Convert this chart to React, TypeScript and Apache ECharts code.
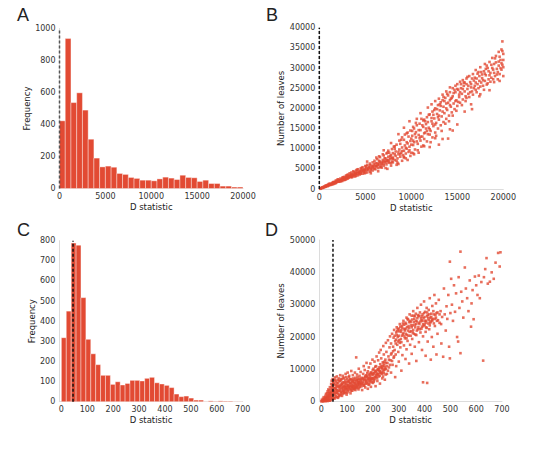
import React, { useEffect, useRef } from "react";
import * as echarts from "echarts";

// ---------- Data ----------
// Panel A: histogram of D statistic (bins of 625, 0..20000)
const A_BIN_WIDTH = 625;
const A_COUNTS = [423, 937, 537, 598, 490, 308, 190, 135, 140, 133, 94, 88, 69, 63, 52, 52, 48, 60, 71, 65, 56, 83, 69, 67, 44, 52, 31, 31, 15, 15, 9, 9];
const A_THRESHOLD = 0;

// Panel C: histogram of D statistic (37 bins, 0..700)
const C_BIN_WIDTH = 700 / 37;
const C_COUNTS = [318, 450, 788, 778, 517, 310, 238, 184, 131, 131, 86, 99, 83, 91, 106, 106, 103, 116, 121, 94, 88, 81, 70, 38, 25, 28, 18, 8, 8, 1, 4, 2, 4, 3, 3, 1, 1];
const C_THRESHOLD = 45;

// Panel B: D statistic (thousands) vs number of leaves (thousands)
const B_POINTS_K = [
  [0.1,0.05],[0.2,0.2],[0.3,0.25],[0.4,0.35],[0.5,0.4],[0.6,0.6],[0.7,0.55],[0.8,0.8],[0.9,0.7],[1.0,0.9],[1.0,1.2],[1.1,1.0],[1.2,1.3],[1.3,1.1],[1.4,1.5],[1.5,1.2],[1.5,1.7],[1.6,1.4],[1.7,1.8],[1.8,1.5],[1.8,2.1],[1.9,1.7],[2.0,2.0],[2.0,2.4],[2.1,1.8],[2.2,2.2],[2.3,2.6],[2.3,1.9],[2.4,2.3],[2.5,2.8],[2.5,2.0],[2.6,2.5],[2.7,3.0],[2.7,2.2],[2.8,2.7],[2.9,3.3],[2.9,2.4],[3.0,3.0],[3.0,2.6],[3.1,3.6],[3.2,2.8],[3.2,3.2],[3.3,3.9],[3.4,3.0],[3.4,3.5],[3.5,4.1],[3.5,2.9],[3.6,3.7],[3.7,3.2],[3.7,4.4],[3.8,3.5],[3.9,4.0],[3.9,3.1],[4.0,4.6],[4.0,3.7],[4.1,4.2],[4.2,3.4],[4.2,4.9],[4.3,3.9],[4.4,4.5],[4.4,3.6],[4.5,5.1],[4.5,4.1],[4.6,4.7],[4.7,3.8],[4.7,5.4],[4.8,4.3],[4.9,5.0],[4.9,3.9],[5.0,5.7],[5.0,4.5],[5.1,5.2],[5.2,4.1],[5.2,6.0],
  [5.3,4.7],[5.4,5.5],[5.5,6.3],[5.5,4.3],[5.6,5.0],[5.7,5.8],[5.8,6.6],[5.8,4.6],[5.9,5.3],[6.0,6.1],[6.0,7.0],[6.1,4.9],[6.2,5.6],[6.3,6.4],[6.3,7.4],[6.4,5.2],[6.5,6.0],[6.6,6.8],[6.6,7.9],[6.7,5.5],[6.8,6.3],[6.9,7.2],[7.0,8.3],[7.0,5.8],[7.1,6.7],[7.2,7.6],[7.3,8.8],[7.3,6.1],[7.4,7.0],[7.5,8.0],[7.5,9.5],[7.6,6.5],[7.7,7.4],[7.8,8.4],[7.9,9.9],[7.9,6.8],[8.0,7.8],[8.0,8.9],[8.1,10.5],[8.2,7.2],[8.3,8.2],[8.3,9.3],[8.4,11.0],[8.5,6.5],[8.5,7.6],[8.6,8.6],[8.7,9.8],[8.7,12.0],[8.8,8.0],[8.9,9.0],[9.0,10.3],[9.0,12.8],[9.1,8.4],[9.2,9.5],[9.3,10.8],[9.3,13.5],[9.4,8.8],[9.5,10.0],[9.6,11.3],[9.6,14.0],[9.7,9.2],[9.8,10.5],[9.9,11.9],[9.9,14.5],[10.0,9.0],[10.0,12.5],[10.1,13.2],[10.2,10.9],[10.3,15.0],[10.3,11.6],[10.4,9.8],[10.5,12.8],[10.5,14.1],[10.6,15.8],[10.7,11.2],[10.8,13.4],[10.9,16.2],[11.0,12.0],[11.0,14.6],[11.1,10.5],[11.2,13.0],[11.3,15.4],[11.3,17.0],[11.4,12.4],[11.5,14.0],[11.6,16.1],[11.7,11.8],[11.7,17.8],[11.8,13.6],[11.9,15.2],[12.0,13.5],[12.0,18.5],[12.1,14.4],[12.2,16.8],[12.3,12.8],[12.3,19.2],[12.4,15.6],[12.5,17.5],[12.6,14.0],[12.6,20.0],[12.7,16.4],[12.8,18.6],[12.9,15.0],[12.9,20.8],[13.0,11.0],[13.0,17.2],[13.1,19.5],[13.2,21.5],[13.2,15.8],[13.3,18.0],[13.4,22.0],[13.5,16.6],[13.5,20.4],[13.6,18.8],[13.7,22.6],[13.8,17.4],[13.8,21.2],[13.9,19.6],[14.0,23.2],[14.0,12.5],[14.1,18.2],[14.2,22.0],[14.2,24.0],[14.3,20.4],[14.4,19.0],[14.5,14.5],[14.5,23.0],[14.5,25.0],[14.6,21.2],[14.7,19.8],[14.8,24.0],[14.8,25.6],[14.9,22.0],[15.0,20.6],[15.0,26.0],[15.1,24.6],[15.2,22.8],[15.3,21.4],[15.3,26.6],[15.4,25.0],[15.5,23.6],[15.6,22.2],[15.6,27.0],[15.7,25.6],[15.8,24.2],[15.9,23.0],[16.0,27.4],[16.0,26.0],[16.1,24.8],[16.2,23.6],[16.3,28.0],[16.4,26.5],[16.5,25.2],[16.5,21.0],[16.6,24.2],[16.7,28.5],[16.8,26.9],[16.9,25.6],[17.0,24.6],[17.0,29.5],[17.1,27.4],[17.2,26.0],[17.3,25.0],[17.4,28.0],[17.5,30.2],[17.5,23.5],[17.6,26.4],[17.7,27.5],[17.8,25.6],[17.9,29.2],[18.0,31.0],[18.0,26.8],[18.1,28.2],[18.2,25.9],[18.3,30.0],[18.4,27.2],[18.5,31.5],[18.5,24.5],[18.6,28.8],[18.7,27.6],[18.8,32.5],[18.9,29.6],[19.0,26.5],[19.0,31.0],[19.1,28.0],[19.2,33.0],[19.3,29.8],[19.4,27.2],[19.5,34.0],[19.5,30.6],[19.6,28.5],[19.7,32.0],[19.8,34.6],[19.8,29.6],[19.9,30.8],[20.0,33.5],[20.0,28.0],[19.9,36.6],
  [0.3,0.4],[0.5,0.6],[0.7,0.9],[0.9,1.0],[1.1,1.3],[1.2,1.0],[1.4,1.2],[1.6,1.7],[1.7,1.4],[1.9,2.0],[2.1,2.3],[2.2,1.9],[2.4,2.0],[2.6,2.9],[2.8,2.3],[3.0,3.4],[3.1,2.6],[3.3,3.3],[3.5,3.5],[3.6,3.0],[3.8,4.2],[4.0,3.3],[4.1,4.8],[4.3,4.3],[4.5,3.8],[4.6,5.2],[4.8,4.7],[5.0,4.0],[5.1,5.6],[5.3,5.0],[5.5,5.9],[5.6,4.6],[5.8,5.6],[6.0,5.0],[6.1,6.4],[6.3,5.8],[6.5,7.0],[6.6,5.4],[6.8,6.6],[7.0,6.2],[7.1,7.6],[7.3,6.6],[7.5,7.2],[7.7,8.2],[7.8,6.4],[8.0,7.4],[8.2,8.6],[8.4,7.0],[8.6,9.2],[8.8,8.6],[9.0,9.4],[9.2,8.0],[9.4,10.2],[9.5,11.6],[9.8,9.6],[10.0,11.0],[10.2,12.0],[10.4,13.6],[10.6,11.8],[10.8,14.6],[11.0,13.0],[11.2,15.8],[11.4,13.8],[11.6,15.0],[11.8,16.6],[12.0,14.8],[12.2,17.6],[12.4,18.4],[12.6,16.0],[12.8,19.8],[13.0,18.2],[13.2,20.6],[13.4,19.2],[13.6,21.8],[13.8,20.0],[14.0,21.4],[14.2,20.8],[14.4,22.6],[14.6,23.8],[14.8,21.8],[15.0,24.8],[15.2,23.4],[15.4,26.0],[15.6,24.8],[15.8,26.4],[16.0,22.6],[16.2,25.6],[16.4,24.0],[16.6,27.4],[16.8,25.0],[17.0,26.4],[17.2,28.6],[17.4,26.8],[17.6,29.0],[17.8,27.0],[18.0,28.6],[18.2,30.6],[18.4,29.2],[18.6,26.6],[18.8,30.0],[19.0,28.8],[19.2,31.4],[19.4,29.0],[19.6,32.8],[19.8,31.2],[20.0,30.2],
  [5.2,6.8],[5.6,3.9],[6.2,7.8],[6.4,4.4],[6.9,8.6],[7.2,5.2],[7.6,9.0],[7.8,5.8],[8.2,10.0],[8.4,6.0],[8.8,11.2],[9.0,7.0],[9.2,12.2],[9.4,7.6],[9.7,13.0],[9.9,8.2],[10.1,14.4],[10.3,8.6],[10.5,16.4],[10.7,9.6],[10.9,12.6],[11.1,17.4],[11.3,10.8],[11.5,16.8],[11.7,14.4],[11.9,18.4],[12.1,11.6],[12.3,16.2],[12.5,19.6],[12.7,13.2],[12.9,17.8],[13.1,21.0],[13.3,14.4],[13.5,22.8],[13.7,16.2],[13.9,23.6],[14.1,16.8],[14.3,22.4],[14.5,18.2],[14.7,24.6],[14.9,19.4],[15.1,21.6],[15.3,24.0],[15.5,20.8],[15.7,26.4],[15.9,21.8],[16.1,27.8],[16.3,22.8],[16.5,26.0],[16.7,23.4],[16.9,27.6],[17.1,24.0],[17.3,29.0],[17.5,25.4],[17.7,28.4],[17.9,24.6],[18.1,29.8],[18.3,26.2],[18.5,28.2],[18.7,30.8],[18.9,27.2],[19.1,32.4],[19.3,28.4],[19.5,31.6],[19.7,30.0],[19.9,34.2],[19.6,26.8],[20.0,32.0],
  [0.15,0.1],[0.35,0.3],[0.55,0.5],[0.75,0.7],[0.95,0.85],[1.15,1.1],[1.35,1.3],[1.55,1.45],[1.75,1.6],[1.95,1.85],[2.15,2.0],[2.35,2.2],[2.55,2.35],[2.75,2.5],[2.95,2.8],[3.15,3.0],[3.35,3.1],[3.55,3.3],[3.75,3.6],[3.95,3.8],[4.15,3.9],[4.35,4.1],[4.55,4.4],[4.75,4.5],[4.95,4.7],[5.15,4.8],[5.35,5.2],[5.55,5.3],[5.75,5.2],[5.95,5.8],[6.15,5.6],[6.35,6.1],[6.55,6.4],[6.75,6.0],[6.95,6.8],[7.15,7.0],[7.35,7.2],[7.55,6.8],[7.75,7.8],[7.95,7.6],
  [6.5,8.1],[7.0,9.6],[7.4,9.0],[7.8,11.4],[8.2,10.6],[8.6,13.6],[8.9,12.2],[9.2,15.2],[9.5,13.8],[9.8,16.8],[10.2,15.4],[10.6,17.4],[11.0,18.8],[11.4,17.2],[11.8,20.2],[12.2,21.0],[12.6,21.8],[13.0,22.4],[13.4,23.4],[13.8,24.2],[14.2,25.2],
  [6.8,5.3],[7.4,5.0],[8.0,6.6],[8.6,6.2],[9.2,7.8],[9.6,7.2],[10.2,8.9],[10.8,9.0],[11.4,10.6],[12.0,10.4],[12.6,12.6],[13.4,12.4],[14.2,14.8],[15.0,16.0],[15.8,19.2],[16.6,19.8],[17.4,23.0]
];
const B_THRESHOLD = 0;

// Panel D: D statistic vs number of leaves (thousands)
const D_POINTS = [
  [0,0.1],[5,0.2],[8,0.5],[10,0.3],[12,0.8],[15,0.4],[15,1.2],[18,0.7],[20,1.5],[20,0.3],[22,1.0],[25,2.0],[25,0.6],[27,1.4],[28,2.8],[30,0.9],[30,3.5],[32,1.8],[33,4.5],[35,2.4],[35,0.5],[37,3.0],[38,5.5],[40,1.3],[40,6.5],[42,3.8],[43,2.0],[44,7.0],[45,4.6],[46,1.0],[47,5.8],[48,3.2],[50,6.8],[50,2.5],[52,4.2],[53,7.5],[55,1.6],[55,5.2],[57,3.6],[58,6.2],[60,2.8],[60,7.8],[62,4.8],[63,1.2],[65,5.8],[66,3.4],[68,7.2],[70,2.2],[70,4.4],[72,6.4],[73,8.2],[75,3.0],[76,5.2],[78,7.0],[80,1.8],[80,4.0],[82,6.0],[83,8.0],[85,3.4],[86,5.0],[88,7.4],[90,2.6],[90,4.6],[92,6.6],[94,8.6],[95,3.8],[96,5.6],[98,2.2],[100,4.4],[100,7.0],[102,9.0],[104,5.2],[105,3.2],[107,6.2],[108,8.0],[110,4.0],[112,5.6],[113,2.6],[115,7.0],[116,9.5],[118,4.6],[120,6.0],[120,3.4],[122,8.2],[124,5.0],[126,6.8],[128,3.8],[130,5.6],[130,9.0],[132,7.4],[134,4.4],[135,13.7],[136,6.2],[138,8.4],[140,5.0],[142,7.0],[144,3.8],[145,10.2],[146,6.0],[148,8.0],[150,4.6],[150,6.8],
  [152,9.2],[155,5.4],[157,7.4],[158,3.6],[160,6.2],[162,8.6],[164,11.0],[165,5.0],[167,7.0],[168,9.8],[170,4.4],[172,6.4],[173,8.2],[175,12.0],[176,5.6],[178,7.6],[180,9.4],[180,4.0],[182,6.8],[184,10.6],[186,5.4],[188,8.0],[190,11.8],[190,6.2],[192,4.6],[194,9.0],[196,7.2],[198,13.0],[200,5.8],[200,8.4],[202,10.2],[204,6.6],[206,12.4],[208,9.4],[210,7.6],[210,4.8],[212,11.0],[214,14.0],[215,8.6],[217,6.4],[219,10.0],[220,12.8],[222,7.8],[224,15.2],[225,9.6],[227,5.6],[228,11.6],[230,8.8],[230,16.0],[232,13.4],[234,10.4],[236,7.2],[238,12.2],[240,17.2],[240,9.4],[242,14.6],[244,11.2],[246,6.8],[248,13.0],[250,10.2],[250,18.2],
  [252,15.4],[254,8.6],[256,12.0],[258,19.0],[260,14.0],[262,10.6],[264,16.8],[266,20.2],[268,12.8],[270,9.0],[270,18.0],[272,15.0],[274,21.0],[276,11.4],[278,17.0],[280,19.8],[280,13.6],[282,22.2],[284,16.0],[286,7.6],[286,18.8],[288,14.6],[290,21.4],[290,11.0],[292,23.0],[294,17.6],[296,20.0],[298,15.4],[300,22.6],[300,12.4],[302,19.0],[304,24.0],[306,16.8],[308,21.6],[310,9.6],[310,18.4],[312,23.4],[314,14.4],[316,20.8],[318,25.0],[320,17.4],[322,22.4],[324,19.6],[326,13.2],[326,24.4],[328,21.0],[330,26.0],[330,16.2],[332,23.0],[334,18.8],[336,25.4],[338,20.4],[340,11.8],[340,22.8],[342,27.0],[344,17.6],[346,24.6],[348,21.8],[350,26.6],[350,14.8],
  [352,19.4],[354,23.6],[356,28.0],[358,21.0],[360,25.6],[362,17.0],[364,23.0],[366,27.2],[368,12.6],[368,20.6],[370,24.8],[372,29.0],[374,22.4],[376,26.4],[378,18.4],[380,24.0],[382,27.6],[384,21.4],[386,30.0],[388,25.2],[390,16.0],[390,23.2],[392,27.0],[394,6.0],[394,20.2],[396,25.8],[398,31.0],[400,23.8],[402,27.8],[404,14.2],[404,21.6],[406,25.0],[408,29.0],[410,5.8],[410,26.4],[412,18.6],[414,24.2],[416,28.4],[418,22.4],[420,32.0],[422,26.0],[424,13.0],[424,24.8],[426,27.2],[428,20.0],[430,29.6],[432,25.6],[434,17.0],[436,27.0],[438,33.0],[440,23.4],[442,26.8],[444,30.4],[446,14.6],[448,25.0],[450,27.6],[450,21.0],
  [455,31.5],[458,24.4],[462,28.0],[465,18.0],[468,26.2],[472,13.9],[475,35.0],[478,27.0],[482,22.0],[485,29.5],[488,25.6],[492,33.0],[495,17.0],[498,13.4],[498,43.3],[500,27.4],[503,38.0],[506,30.0],[510,25.0],[514,36.0],[518,27.8],[522,33.5],[526,20.0],[530,18.6],[532,38.5],[535,29.0],[539,46.4],[539,15.0],[542,34.0],[546,31.0],[550,26.0],[556,41.5],[560,35.0],[565,32.0],[570,28.0],[575,37.5],[580,23.2],[582,30.4],[586,34.5],[590,25.5],[595,38.7],[600,36.0],[605,33.0],[610,39.0],[614,32.0],[620,37.0],[627,12.7],[630,38.5],[635,41.0],[640,44.4],[645,36.5],[653,37.1],[660,40.0],[668,38.0],[675,43.0],[685,46.0],[691,41.8],[694,46.2],
  [3,0.3],[7,0.1],[11,0.6],[14,0.9],[17,0.2],[19,1.1],[21,0.6],[23,1.6],[24,0.2],[26,1.0],[29,2.0],[31,1.4],[34,2.8],[36,1.0],[39,2.2],[41,3.2],[42,0.7],[45,2.0],[47,3.4],[49,1.2],[51,3.0],[54,2.2],[56,4.0],[59,1.5],[61,3.6],[64,2.4],[67,4.6],[69,1.8],[71,3.4],[74,4.8],[77,2.6],[79,5.4],[81,3.2],[84,4.6],[87,2.8],[89,5.8],[91,3.8],[93,5.0],[97,4.2],[99,6.0],[101,3.6],[103,5.0],[106,4.4],[109,6.6],[111,4.8],[114,3.8],[117,5.6],[119,4.2],[121,6.4],[125,4.8],[127,5.8],[129,4.2],[133,5.4],[137,6.6],[139,4.2],[141,5.8],[143,6.6],[147,5.2],[149,7.2],[153,6.0],[156,4.8],[159,7.0],[163,5.6],[166,6.6],[169,7.6],[171,5.6],[174,6.8],[177,8.0],[181,7.2],[183,5.2],[185,8.4],[187,6.6],[189,7.4],[191,9.0],[193,7.0],[195,6.0],[197,8.4],[199,9.8],[201,7.2],[203,6.2],[205,8.8],[207,7.6],[209,10.8],[211,8.2],[213,9.2],[216,7.2],[218,9.8],[221,8.4],[223,10.6],[226,8.0],[229,9.4],[233,11.0],[235,8.6],[237,10.2],[239,7.8],[241,11.8],[243,9.8],[245,12.4],[247,10.0],[249,8.4],
  [284,20.4],[288,18.0],[292,20.6],[296,22.4],[298,18.6],[302,21.8],[306,23.2],[308,19.4],[312,20.4],[314,22.8],[318,21.2],[320,23.8],[324,22.0],[328,24.0],[332,20.6],[334,25.6],[338,23.4],[342,21.6],[344,25.0],[348,23.6],[352,25.4],[356,22.2],[358,24.6],[362,26.4],[364,20.8],[368,24.0],[372,25.8],[376,23.0],[380,26.6],[384,24.8],[388,22.6],[392,25.0],[396,23.4],[400,26.2],[404,24.4],[408,22.8],[412,26.8],[416,25.2],[420,23.6],[428,25.4],[436,24.2],[444,26.0],
  [2,0.6],[6,0.9],[9,1.4],[13,0.2],[16,1.8],[18,2.4],[22,2.6],[24,3.2],[27,3.8],[28,0.4],[31,2.6],[33,0.3],[36,3.8],[38,1.8],[40,4.6],[43,5.2],[44,2.8],[46,6.0],[48,4.2],[50,5.4],[52,1.0],[54,6.6],[56,2.8],[58,4.6],[60,5.6],[62,3.0],[64,6.8],[66,1.4],[68,5.0],[70,6.4],[72,3.8],[74,2.0],[76,6.8],[78,4.4],[80,5.6],[82,2.4],[84,7.2],[86,4.0],[88,3.2],[90,6.0],[92,4.4],[94,3.0],[96,7.6],[98,5.0],[100,2.8],[102,6.4],[104,3.8],[106,7.6],[108,4.6],[110,5.8],[112,7.0],[114,4.8],[116,3.4],[118,6.6],[120,5.0],[122,4.0],[124,7.2],[126,4.2],[128,6.2],[130,4.8],[132,3.6],[134,6.8],[136,5.0],[138,4.6],[140,7.6],[142,5.4],[144,6.0],[146,4.4],[148,5.8],[150,5.4],
  [154,6.6],[158,5.6],[162,7.2],[166,5.0],[170,7.8],[174,6.0],[178,8.8],[182,6.0],[186,7.2],[190,8.6],[194,6.8],[198,7.4],[202,8.8],[206,7.0],[210,9.6],[214,7.8],[218,8.6],[222,10.0],[226,9.0],[230,10.6],[234,9.0],[238,11.0],[242,8.8],[246,10.6],[250,12.0],[254,11.0],[258,9.6],[262,13.0],[266,11.4],[270,14.6],[274,12.6],[278,15.6],[282,14.0],
  [290,19.2],[294,21.8],[300,20.4],[304,18.2],[310,22.2],[316,24.2],[322,20.2],[326,22.6],[330,19.6],[336,22.0],[340,24.6],[346,20.4],[350,23.0],[354,21.4],[358,26.6],[362,23.8],[366,25.0],[370,22.0],[374,26.8],[378,24.4],[382,22.4],[386,25.8],[390,26.4],[394,24.0],[398,27.4],[402,25.0],[406,23.0],[410,27.6],[414,25.8],[418,27.0],[422,24.4],[426,26.2],[430,25.0],[434,28.0],[440,25.6],[446,27.4],[452,25.2],[458,27.0],[464,24.0]
];
const D_THRESHOLD = 45;

const PANEL_LETTERS = ["A", "B", "C", "D"];
const CD_X_TICKS = [0, 100, 200, 300, 400, 500, 600, 700];

// ---------- Styles ----------
const RED = "#E24A33";
const FONT = "DejaVu Sans";
const TICK_COLOR = "#333";
const AXIS_LINE = "#dcdcdc";

function histData(counts: number[], width: number) {
  return counts.map((c, i) => [i * width, (i + 1) * width, c]);
}

function renderBin(params: any, api: any) {
  const x0 = api.value(0);
  const x1 = api.value(1);
  const v = api.value(2);
  const p0 = api.coord([x0, v]);
  const p1 = api.coord([x1, 0]);
  return {
    type: "rect",
    shape: { x: p0[0], y: p0[1], width: p1[0] - p0[0], height: p1[1] - p0[1] },
    style: { fill: RED, stroke: "rgba(255,255,255,0.55)", lineWidth: 0.7 },
  };
}

const plain = (v: number) => String(v);

function xAxisBase(gridIndex: number, min: number, max: number, name: string, extra: any = {}) {
  return {
    type: "value",
    gridIndex,
    min,
    max,
    name,
    nameLocation: "middle",
    nameGap: 14,
    nameTextStyle: { fontFamily: FONT, fontSize: 8.5, color: "#222" },
    axisLine: { show: true, onZero: false, lineStyle: { color: AXIS_LINE, width: 1 } },
    axisTick: { show: false },
    splitLine: { show: false },
    axisLabel: { fontFamily: FONT, fontSize: 8, color: TICK_COLOR, margin: 4, formatter: plain, ...(extra.axisLabel || {}) },
    ...(extra.rest || {}),
  };
}

function yAxisBase(gridIndex: number, max: number, interval: number, name: string, nameGap: number) {
  return {
    type: "value",
    gridIndex,
    min: 0,
    max,
    interval,
    name,
    nameLocation: "middle",
    nameRotate: 90,
    nameGap,
    nameTextStyle: { fontFamily: FONT, fontSize: 8.5, color: "#222" },
    axisLine: { show: true, onZero: false, lineStyle: { color: AXIS_LINE, width: 1 } },
    axisTick: { show: false },
    splitLine: { show: false },
    axisLabel: { fontFamily: FONT, fontSize: 8, color: TICK_COLOR, margin: 4, formatter: plain },
  };
}

function dashed(xIndex: number, x: number, yMax: number, color: string) {
  return {
    type: "line",
    xAxisIndex: xIndex,
    yAxisIndex: xIndex,
    data: [[x, 0], [x, yMax]],
    symbol: "none",
    clip: false,
    silent: true,
    z: 5,
    lineStyle: { color, width: 1.5, type: [3, 2] },
  };
}

export default function App() {
  const ref = useRef<HTMLDivElement>(null);

  useEffect(() => {
    if (!ref.current) return;
    const chart = echarts.init(ref.current, undefined, { renderer: "svg" });

    const bPoints = B_POINTS_K.map((p) => [p[0] * 1000, p[1] * 1000]);
    const dPoints = D_POINTS.map((p) => [p[0], p[1] * 1000]);

    const letterPos = [
      { left: 17, top: 6 },
      { left: 266, top: 6 },
      { left: 17, top: 221 },
      { left: 265, top: 221 },
    ];

    chart.setOption({
      animation: false,
      backgroundColor: "#fff",
      title: PANEL_LETTERS.map((t, i) => ({
        text: t,
        left: letterPos[i].left,
        top: letterPos[i].top,
        padding: 0,
        textStyle: { fontFamily: "Liberation Sans", fontSize: 18, fontWeight: "normal", color: "#222" },
      })),
      grid: [
        { left: 59.5, top: 28.5, width: 183.5, height: 160 },
        { left: 319.3, top: 27.7, width: 184, height: 161.3 },
        { left: 59.3, top: 240.7, width: 183.4, height: 161 },
        { left: 319.3, top: 240, width: 182.7, height: 161.7 },
      ],
      xAxis: [
        xAxisBase(0, 0, 20000, "D statistic", { rest: { interval: 5000 } }),
        xAxisBase(1, 0, 20000, "D statistic", { rest: { interval: 5000 } }),
        xAxisBase(2, -8, 700, "D statistic", { axisLabel: { customValues: CD_X_TICKS } }),
        xAxisBase(3, -8, 700, "D statistic", { axisLabel: { customValues: CD_X_TICKS } }),
      ],
      yAxis: [
        yAxisBase(0, 1000, 200, "Frequency", 25.5),
        yAxisBase(1, 40000, 5000, "Number of leaves", 30.5),
        yAxisBase(2, 800, 100, "Frequency", 21.5),
        yAxisBase(3, 50000, 10000, "Number of leaves", 31),
      ],
      series: [
        {
          type: "custom",
          xAxisIndex: 0,
          yAxisIndex: 0,
          renderItem: renderBin,
          encode: { x: [0, 1], y: 2 },
          data: histData(A_COUNTS, A_BIN_WIDTH),
        },
        dashed(0, A_THRESHOLD, 1000, "#555"),
        {
          type: "scatter",
          xAxisIndex: 1,
          yAxisIndex: 1,
          symbol: "rect",
          symbolSize: 2.6,
          itemStyle: { color: RED },
          data: bPoints,
        },
        dashed(1, B_THRESHOLD, 40000, "#111"),
        {
          type: "custom",
          xAxisIndex: 2,
          yAxisIndex: 2,
          renderItem: renderBin,
          encode: { x: [0, 1], y: 2 },
          data: histData(C_COUNTS, C_BIN_WIDTH),
        },
        dashed(2, C_THRESHOLD, 800, "#111"),
        {
          type: "scatter",
          xAxisIndex: 3,
          yAxisIndex: 3,
          symbol: "rect",
          symbolSize: 2.6,
          itemStyle: { color: RED },
          data: dPoints,
        },
        dashed(3, D_THRESHOLD, 50000, "#111"),
      ],
    });

    return () => chart.dispose();
  }, []);

  return (
    <div
      ref={ref}
      style={{ position: "fixed", left: 0, top: 0, width: 540, height: 450 }}
    />
  );
}
